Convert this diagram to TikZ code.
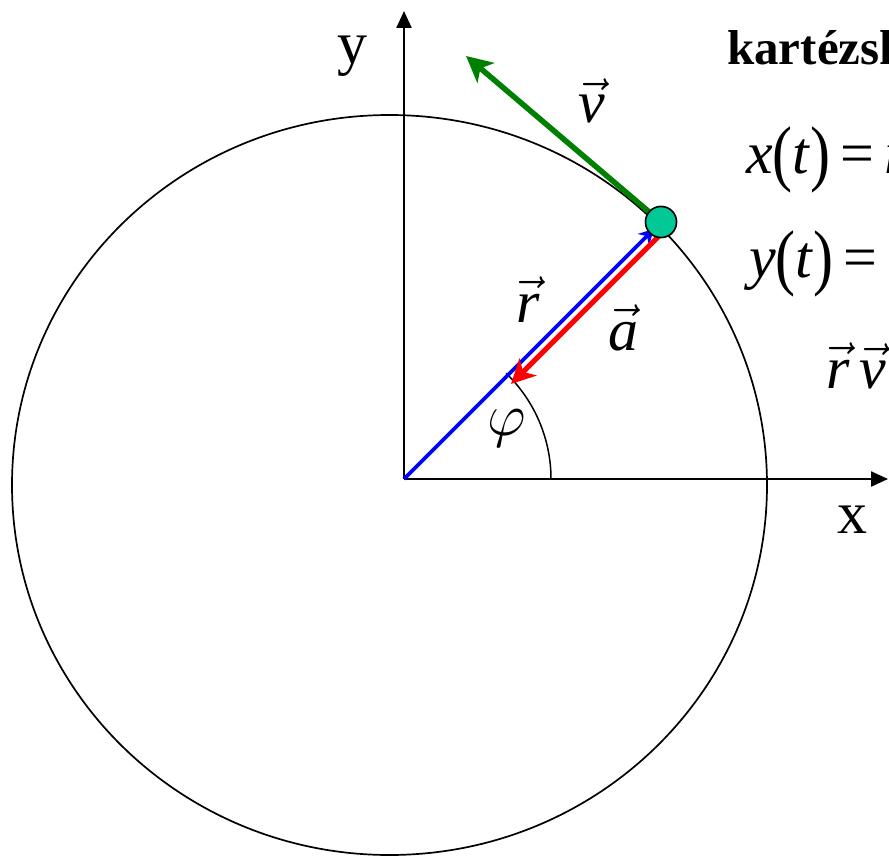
\documentclass[tikz,border=0pt]{standalone}
\usepackage{fix-cm}
\usepackage{amsmath}
\usepackage{graphicx}
\usepackage{fontspec}
\setmainfont{Liberation Serif}
\usetikzlibrary{arrows.meta}
\definecolor{partc}{RGB}{0,201,150}
\definecolor{velc}{RGB}{0,128,0}
\newcommand{\vvec}[1]{\ensuremath{\vec{\text{\itshape #1}}}}
\newcommand{\lblsize}{\fontsize{60}{70}\selectfont}
\newcommand{\titsize}{\fontsize{49}{58}\selectfont}
\newcommand{\bparen}[1]{\raisebox{-0.08em}{\scalebox{1}[1.22]{#1}}}
\tikzset{
  axisline/.style={line width=2.4pt, -{Triangle[length=17pt,width=15pt]}},
  orbit/.style={line width=1.7pt},
  lab/.style={inner sep=0pt, font=\lblsize},
  radvec/.style={blue, line width=3.6pt, -{Stealth[length=15pt,width=16pt,inset=5pt]}},
  accvec/.style={red, line width=5pt, -{Stealth[length=24pt,width=24pt,inset=7pt]}},
  velvec/.style={velc, line width=5.5pt, -{Stealth[length=26pt,width=26pt,inset=7pt]}},
  particle/.style={circle, draw=black, line width=1.5pt, fill=partc, minimum size=31pt, inner sep=0pt}
}
\begin{document}
\begin{tikzpicture}[x=1pt,y=-1pt]
\useasboundingbox (0,0) rectangle (889,856);
\clip (0,0) rectangle (889,856);
\coordinate (O) at (404,479);
\coordinate (C) at (389.5,485);
\coordinate (xend) at (888,479);
\coordinate (yend) at (404,11);
\coordinate (rtip) at (654,229);
\coordinate (astart) at (668,227);
\coordinate (atip) at (511,384);
\coordinate (vtip) at (466,56);
\coordinate (arcstart) at (551,479);
% orbit
\draw[orbit] (C) ellipse [x radius=377.5pt, y radius=370pt];
% axes
\draw[axisline] (O) -- (xend);
\draw[axisline] (O) -- (yend);
\node[lab, anchor=base] (xl) at (852,533) {x};
\node[lab, anchor=base] (yl) at (352,64) {y};
% angle
\draw[line width=1.5pt] (arcstart) arc[start angle=0, end angle=46, radius=147pt];
\node[lab] (phi) at (507,428) {$\varphi$};
% vectors
\node[particle] (P) at (661,222) {};
\draw[radvec] (O) -- (rtip);
\draw[accvec] (astart) -- (atip);
\draw[velvec] (P.center) -- (vtip);
\node[particle] (P2) at (661,222) {};
\node[lab, anchor=base] (rl) at (528,322) {\vvec{r}};
\node[lab, anchor=base] (al) at (623,350) {\vvec{a}};
\node[lab, anchor=base] (vl) at (592,123) {\vvec{v}};
% text at right
\node[inner sep=0pt, anchor=base west, font=\titsize\bfseries] (title) at (727,65) {kartézski koordináták};
\node[inner sep=0pt, anchor=base west, font=\lblsize] (eqx) at (746,173) {\textit{x}\bparen{(}\textit{t}\bparen{)}\,=\,\textit{r}\,cos};
\node[inner sep=0pt, anchor=base west, font=\lblsize] (eqy) at (749,277) {\textit{y}\bparen{(}\textit{t}\bparen{)}\,=};
\node[inner sep=0pt, anchor=base west, font=\lblsize] (eqr) at (826,388) {\vvec{r}\,\vvec{v}\;=\;0};
\end{tikzpicture}
\end{document}
